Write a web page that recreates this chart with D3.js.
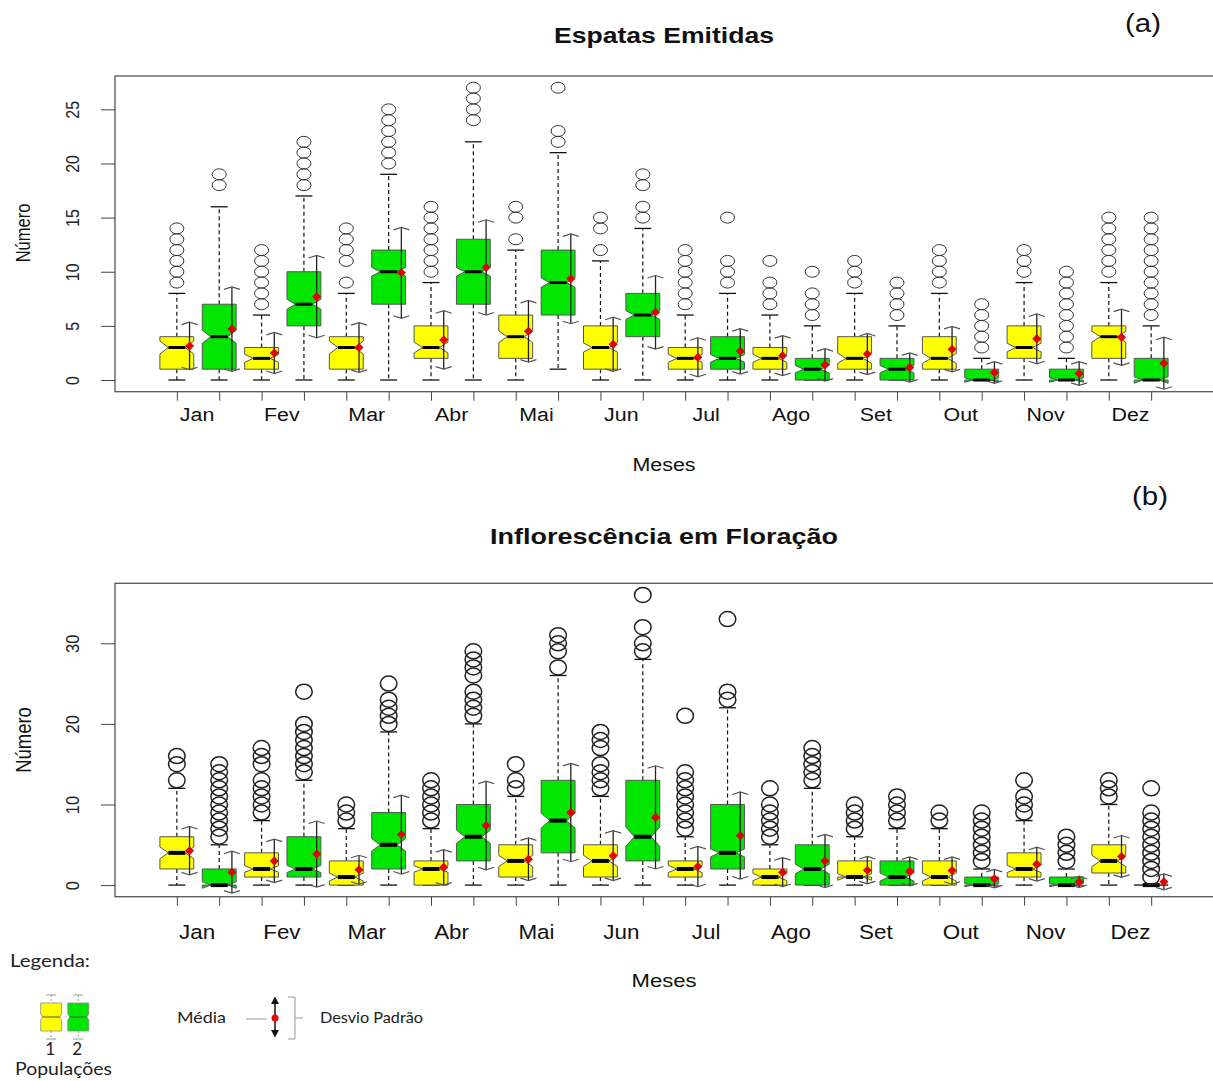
<!DOCTYPE html>
<html><head><meta charset="utf-8">
<script src="https://cdn.jsdelivr.net/npm/d3@7"></script>
<style>
body{margin:0;background:#fff;}
</style></head>
<body><svg id="c" width="1213" height="1081" font-family="Liberation Sans, Arial, sans-serif"></svg>
<script>
// ---------- DATA ----------
const months = ["Jan","Fev","Mar","Abr","Mai","Jun","Jul","Ago","Set","Out","Nov","Dez"];
const populations = ["1","2"];
const ticksA = [0,5,10,15,20,25];
const ticksB = [0,10,20,30];

// Panel (a) Espatas Emitidas — population 1 (yellow)
const whiskLoA1 = [0,0,0,0,0,0,0,0,0,0,0,0];
const q1A1      = [1,1,1,2,2,1,1,1,1,1,2,2];
const medA1     = [3,2,3,3,4,3,2,2,2,2,3,4];
const q3A1      = [4,3,4,5,6,5,3,3,4,4,5,5];
const whiskHiA1 = [8,6,8,9,12,11,6,6,8,8,9,9];
const outA1 = [[9,10,11,12,13,14],[7,8,9,10,11,12],[9,11,12,13,14],[10,11,12,13,14,15,16],[13,15,16],[12,14,15],[7,8,9,10,11,12],[7,8,9,11],[9,10,11],[9,10,11,12],[10,11,12],[10,11,12,13,14,15]];
const meanA1 = [3.15,2.5,3.0,3.7,4.5,3.3,2.1,2.25,2.4,2.85,3.8,3.95];
const sdA1   = [2.2,1.9,2.3,2.7,2.85,2.5,1.8,1.85,1.9,2.1,2.3,2.6];
const notchA1 = [0.6,0.37,0.6,0.5,0.54,0.42,0.37,0.37,0.46,0.46,0.4,0.5];

// Panel (a) — population 2 (green)
const whiskLoA2 = [0,0,0,0,1,0,0,0,0,0,0,0];
const q1A2      = [1,5,7,7,6,4,1,0,0,0,0,0];
const medA2     = [4,7,10,10,9,6,2,1,1,0,0,0];
const q3A2      = [7,10,12,13,12,8,4,2,2,1,1,2];
const whiskHiA2 = [16,17,19,22,21,14,8,5,5,2,2,5];
const outA2 = [[18,19],[18,19,20,21,22],[20,21,22,23,24,25],[24,25,26,27],[22,23,27],[15,16,18,19],[9,10,11,15],[6,7,8,10],[6,7,8,9],[3,4,5,6,7],[3,4,5,6,7,8,9,10],[6,7,8,9,10,11,12,13,14,15]];
const meanA2 = [4.7,7.7,9.9,10.4,9.35,6.25,2.65,1.4,1.15,0.7,0.6,1.55];
const sdA2   = [3.9,3.8,4.2,4.4,4.15,3.4,2.1,1.5,1.35,1.0,1.1,2.4];
const notchA2 = [0.6,0.46,0.4,0.4,0.43,0.4,0.35,0.34,0.34,0.2,0.2,0.3];

// Panel (b) Inflorescência em Floração — population 1 (yellow)
const whiskLoB1 = [0,0,0,0,0,0,0,0,0,0,0,0];
const q1B1      = [2,1,0,0,1,1,1,0,1,0,1,1.5];
const medB1     = [4,2,1,2,3,3,2,1,1,1,2,3];
const q3B1      = [6,4,3,3,5,5,3,2,3,3,4,5];
const whiskHiB1 = [12,8,7,7,11,11,6,5,6,7,8,10];
const outB1 = [[13,15,16],[9,10,11,12,13,15,16,17],[8,9,10],[8,9,10,11,12,13],[12,13,15],[12,13,14,15,17,18,19],[7,8,9,10,11,12,13,14,21],[6,7,8,9,10,12],[7,8,9,10],[8,9],[9,10,11,13],[11,12,13]];
const meanB1 = [4.27,3.0,1.9,2.2,3.2,3.65,2.3,1.6,1.85,1.8,2.6,3.55];
const sdB1   = [3.0,2.7,1.8,2.2,2.65,3.1,2.5,1.8,1.7,1.7,2.1,2.6];
const notchB1 = [0.73,0.4,0.48,0.4,0.7,0.7,0.45,0.45,0.4,0.5,0.45,0.7];

// Panel (b) — population 2 (green)
const whiskLoB2 = [0,0,0,0,0,0,0,0,0,0,0,0];
const q1B2      = [0,1,2,3,4,3,2,0,0,0,0,0];
const medB2     = [0,2,5,6,8,6,4,2,1,0,0,0];
const q3B2      = [2,6,9,10,13,13,10,5,3,1,1,0];
const whiskHiB2 = [5,13,19,20,26,28,22,12,7,2,2,0];
const outB2 = [[6,7,8,9,10,11,12,13,14,15],[14,15,16,17,18,19,20,24],[20,21,22,23,25],[21,22,23,24,26,27,28,29],[27,29,30,31],[29,30,32,36],[23,24,33],[13,14,15,16,17],[8,9,10,11],[3,4,5,6,7,8,9],[3,4,5,6],[1,2,3,4,5,6,7,8,9,12]];
const meanB2 = [1.6,3.85,6.27,7.4,9.0,8.4,6.15,3.0,1.7,0.8,0.4,0.4];
const sdB2   = [2.6,4.1,4.9,5.5,6.1,6.4,5.4,3.3,1.8,1.15,0.7,1.0];
const notchB2 = [0.4,0.45,0.77,0.83,0.93,1.2,0.5,0.6,0.5,0.2,0.2,0];

// ---------- BUILD ----------
function build(lo,q1,md,q3,hi,out,mn,sd,nt,pop){
  return months.map((m,i)=>({month:m,pop,idx:i*2+(pop==="1"?1:2),lo:lo[i],q1:q1[i],med:md[i],q3:q3[i],hi:hi[i],out:out[i],mean:mn[i],sd:sd[i],notch:nt[i]}));
}
const dataA = build(whiskLoA1,q1A1,medA1,q3A1,whiskHiA1,outA1,meanA1,sdA1,notchA1,"1")
  .concat(build(whiskLoA2,q1A2,medA2,q3A2,whiskHiA2,outA2,meanA2,sdA2,notchA2,"2"));
const dataB = build(whiskLoB1,q1B1,medB1,q3B1,whiskHiB1,outB1,meanB1,sdB1,notchB1,"1")
  .concat(build(whiskLoB2,q1B2,medB2,q3B2,whiskHiB2,outB2,meanB2,sdB2,notchB2,"2"));

const svg = d3.select("#c");
const fill = d3.scaleOrdinal().domain(populations).range(["#ffff00","#00e600"]);
const mainFont = "'Liberation Sans', Arial, sans-serif";

// text helper: x, y baseline, size, target width, anchor, rotation
function stext(parent, o){
  const t = parent.append("text").attr("font-size",o.size).attr("fill",o.fill||"#111")
    .attr("text-anchor",o.anchor||"middle").style("font-family",o.family||mainFont).text(o.text);
  if(o.weight) t.attr("font-weight",o.weight);
  if(o.w){ t.attr("textLength",o.w).attr("lengthAdjust","spacingAndGlyphs"); }
  if(o.rot){ t.attr("transform",`translate(${o.x},${o.y}) scale(${o.sx||1},1) rotate(${o.rot})`); }
  else { t.attr("x",o.x).attr("y",o.y); }
  return t;
}

function panel(opt){
  const {data,top,bottom,ymax,ticks,title,titleW,tag,tagX,tagY,titleY,mesesY,mesesW,monthY,numY,rx,ry,big} = opt;
  const left=115, right=1213;
  const n = 24;
  const pad = n*0.04;
  const x = d3.scaleLinear().domain([0.5-pad, n+0.5+pad]).range([left,right]);
  const ypad = ymax*0.04;
  const y = d3.scaleLinear().domain([-ypad, ymax+ypad]).range([bottom,top]);
  const g = svg.append("g");
  const bw = 0.4; // half box width in units
  const nf = 0.5;

  // frame
  g.append("rect").attr("x",left).attr("y",top).attr("width",right-left+5).attr("height",bottom-top)
    .attr("fill","none").attr("stroke","#555").attr("stroke-width",1.3);

  // y axis
  const ya = g.append("g").attr("transform",`translate(${left},0)`)
    .call(d3.axisLeft(y).tickValues(ticks).tickSize(14).tickFormat(d3.format("d")));
  ya.select(".domain").remove();
  ya.selectAll(".tick line").attr("stroke","#444");
  ya.selectAll(".tick text").attr("x",0).attr("dy",0).attr("transform",`translate(-41,0) scale(1.15,1) rotate(-90)`)
    .attr("text-anchor","middle").attr("font-size",big?16.5:16).attr("fill","#222")
    .style("font-family",mainFont).attr("dominant-baseline","middle");

  // x axis ticks at each box
  const xa = g.append("g").attr("transform",`translate(0,${bottom})`)
    .call(d3.axisBottom(x).tickValues(d3.range(1,n+1)).tickSize(9).tickFormat(""));
  xa.select(".domain").remove();
  xa.selectAll(".tick line").attr("stroke","#444");

  // month labels
  const mx = d3.scalePoint().domain(months).range([x(1.5)-1.5,x(23.5)]);
  const ma = g.append("g").attr("transform",`translate(0,${monthY})`)
    .call(d3.axisBottom(mx).tickSize(0));
  ma.select(".domain").remove();
  ma.selectAll("text").attr("font-size",big?19.5:18.6).attr("fill","#111").attr("dy",0)
    .attr("y",0).attr("transform","scale(1.15,1)").style("font-family",mainFont);

  const boxes = g.selectAll("g.box").data(data).join("g").attr("class","box");
  // whiskers
  boxes.append("line").attr("x1",d=>x(d.idx)).attr("x2",d=>x(d.idx)).attr("y1",d=>y(d.q3)).attr("y2",d=>y(d.hi))
    .attr("stroke","#111").attr("stroke-width",1.2).attr("stroke-dasharray","4,3");
  boxes.append("line").attr("x1",d=>x(d.idx)).attr("x2",d=>x(d.idx)).attr("y1",d=>y(d.q1)).attr("y2",d=>y(d.lo))
    .attr("stroke","#111").attr("stroke-width",1.2).attr("stroke-dasharray","4,3");
  boxes.append("line").attr("x1",d=>x(d.idx-bw/2)).attr("x2",d=>x(d.idx+bw/2)).attr("y1",d=>y(d.hi)).attr("y2",d=>y(d.hi))
    .attr("stroke","#111").attr("stroke-width",1.3);
  boxes.append("line").attr("x1",d=>x(d.idx-bw/2)).attr("x2",d=>x(d.idx+bw/2)).attr("y1",d=>y(d.lo)).attr("y2",d=>y(d.lo))
    .attr("stroke","#111").attr("stroke-width",1.3);
  // notched box (R bxp style)
  boxes.append("path").attr("d",d=>{
    const nl=d.med-d.notch, nu=d.med+d.notch;
    const xs=[-1,1,1,nf,1,1,-1,-1,-nf,-1], ys=[d.q1,d.q1,nl,d.med,nu,d.q3,d.q3,nu,d.med,nl];
    return "M"+xs.map((v,k)=>x(d.idx+v*bw)+","+y(ys[k])).join("L")+"Z";
  }).attr("fill",d=>fill(d.pop)).attr("stroke","#555").attr("stroke-width",1);
  // median
  boxes.append("line").attr("x1",d=>x(d.idx-bw*nf)).attr("x2",d=>x(d.idx+bw*nf)).attr("y1",d=>y(d.med)).attr("y2",d=>y(d.med))
    .attr("stroke","#000").attr("stroke-width",big?4:3);
  // outliers
  boxes.selectAll("ellipse").data(d=>d.out.map(v=>({v,idx:d.idx}))).join("ellipse")
    .attr("cx",o=>x(o.idx)).attr("cy",o=>y(o.v)).attr("rx",rx).attr("ry",ry)
    .attr("fill","none").attr("stroke",big?"#222":"#333").attr("stroke-width",big?1.5:1);
  // sd bars
  const off=0.3;
  boxes.append("line").attr("x1",d=>x(d.idx+off)).attr("x2",d=>x(d.idx+off))
    .attr("y1",d=>y(d.mean-d.sd)).attr("y2",d=>y(d.mean+d.sd)).attr("stroke","#222").attr("stroke-width",1.3);
  boxes.append("path").attr("d",d=>{const cx=x(d.idx+off), yt=y(d.mean+d.sd), yb=y(d.mean-d.sd);
      return `M${cx-8},${yt+2.5}L${cx},${yt}L${cx+8},${yt+2.5}M${cx-8},${yb-2.5}L${cx},${yb}L${cx+8},${yb-2.5}`;})
    .attr("fill","none").attr("stroke","#555").attr("stroke-width",1.2);
  boxes.append("path").attr("transform",d=>`translate(${x(d.idx+off)},${y(d.mean)})`)
    .attr("d",d3.symbol(d3.symbolDiamond2,52)).attr("fill","#e00000");

  // texts
  stext(svg,{x:664,y:titleY,size:22,w:titleW,weight:"bold",text:title});
  stext(svg,{x:tagX,y:tagY,size:25,w:36,text:tag});
  stext(svg,{x:664,y:mesesY,size:big?19:18,w:mesesW,text:"Meses"});
  stext(svg,{x:big?31:30,y:numY,size:big?18.5:16.5,rot:-90,sx:1.18,text:"Número"});
}

panel({data:dataA,top:76,bottom:391.7,ymax:27,ticks:ticksA,title:"Espatas Emitidas",titleW:220,tag:"(a)",tagX:1143,tagY:32,titleY:42.5,mesesY:471,mesesW:63,monthY:420.5,numY:233,rx:7,ry:5.5,big:false});
panel({data:dataB,top:583.3,bottom:896.7,ymax:36,ticks:ticksB,title:"Inflorescência em Floração",titleW:348,tag:"(b)",tagX:1150,tagY:505,titleY:544,mesesY:987,mesesW:65,monthY:939,numY:740,rx:8.3,ry:7.5,big:true});

// ---------- LEGEND ----------
const lg = svg.append("g");
const lf = "Lato, 'Open Sans', sans-serif";
stext(lg,{x:10,y:966.5,size:17,w:80,anchor:"start",family:lf,fill:"#222",text:"Legenda:"});
populations.forEach((p,i)=>{
  const cx = 51.2 + i*27.1, w=10.5, yt=1003, yb=1031, ym=1017;
  lg.append("line").attr("x1",cx).attr("x2",cx).attr("y1",995).attr("y2",1039).attr("stroke","#999").attr("stroke-dasharray","2,2");
  lg.append("line").attr("x1",cx-5).attr("x2",cx+5).attr("y1",995).attr("y2",995).attr("stroke","#999");
  lg.append("line").attr("x1",cx-5).attr("x2",cx+5).attr("y1",1039).attr("y2",1039).attr("stroke","#999");
  lg.append("path").attr("d",`M${cx-w},${yt}L${cx+w},${yt}L${cx+w},${ym-3}L${cx+w-2},${ym}L${cx+w},${ym+3}L${cx+w},${yb}L${cx-w},${yb}L${cx-w},${ym+3}L${cx-w+2},${ym}L${cx-w},${ym-3}Z`)
    .attr("fill",fill(p)).attr("stroke","#888").attr("stroke-width",0.8);
  lg.append("line").attr("x1",cx-w+2).attr("x2",cx+w-2).attr("y1",ym).attr("y2",ym).attr("stroke","#555").attr("stroke-width",1);
  stext(lg,{x:cx-1,y:1055,size:17,family:lf,fill:"#222",text:p});
});
stext(lg,{x:15,y:1075,size:17,w:97,anchor:"start",family:lf,fill:"#222",text:"Populações"});
stext(lg,{x:177,y:1023.3,size:16,w:49,anchor:"start",family:lf,fill:"#222",text:"Média"});
lg.append("line").attr("x1",246).attr("x2",267).attr("y1",1019).attr("y2",1019).attr("stroke","#999");
lg.append("line").attr("x1",275).attr("x2",275).attr("y1",1000).attr("y2",1034).attr("stroke","#111").attr("stroke-width",1.5);
lg.append("path").attr("d","M271,1004L275,996.5L279,1004Z").attr("fill","#111");
lg.append("path").attr("d","M271,1030L275,1037.5L279,1030Z").attr("fill","#111");
lg.append("circle").attr("cx",275).attr("cy",1018).attr("r",3.5).attr("fill","#ee0000");
lg.append("path").attr("d","M288,997L295,997L295,1039L288,1039M295,1018L303,1018").attr("fill","none").attr("stroke","#999");
stext(lg,{x:320,y:1023.3,size:16,w:103,anchor:"start",family:lf,fill:"#222",text:"Desvio Padrão"});
</script></body></html>
